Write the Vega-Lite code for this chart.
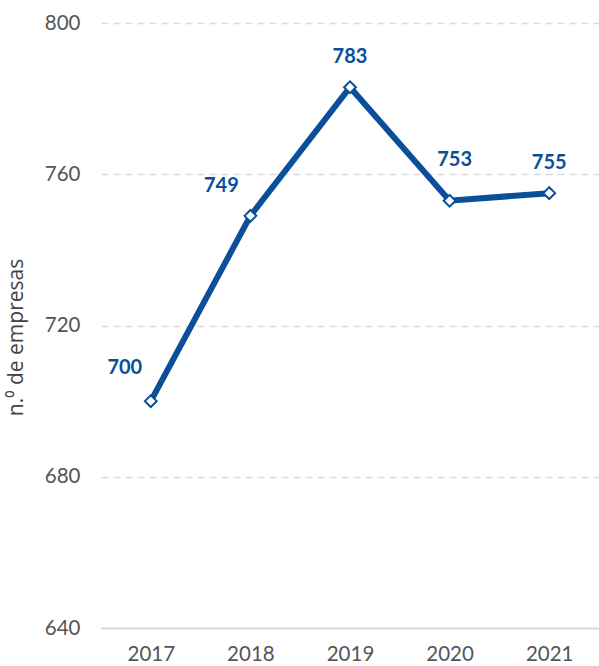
{
  "$schema": "https://vega.github.io/schema/vega-lite/v6.json",
  "autosize": {"type": "none"},
  "padding": {"left": 101, "top": 23, "right": 0, "bottom": 38},
  "width": 498,
  "height": 605,
  "background": "white",
  "config": {
    "view": {"stroke": null},
    "font": "Lato"
  },
  "data": {
    "values": [
      {"year": "2017", "value": 700},
      {"year": "2018", "value": 749},
      {"year": "2019", "value": 783},
      {"year": "2020", "value": 753},
      {"year": "2021", "value": 755}
    ]
  },
  "encoding": {
    "x": {
      "field": "year",
      "type": "ordinal",
      "scale": {"type": "point", "padding": 0.5},
      "axis": {
        "title": null,
        "labelAngle": 0,
        "labelFont": "Lato",
        "labelFontSize": 20.5,
        "labelColor": "#555555",
        "labelPadding": 16,
        "ticks": false,
        "domain": true,
        "domainColor": "#d9d9d9",
        "domainWidth": 2
      }
    },
    "y": {
      "field": "value",
      "type": "quantitative",
      "scale": {"domain": [640, 800], "nice": false, "zero": false},
      "axis": {
        "values": [640, 680, 720, 760, 800],
        "title": "n.⁰ de empresas",
        "titleFont": "Open Sans",
        "titleFontSize": 21,
        "titleFontWeight": "normal",
        "titleColor": "#444444",
        "titleX": -75,
        "titleY": 314,
        "labelFont": "Lato",
        "labelFontSize": 20.5,
        "labelColor": "#555555",
        "labelPadding": 21,
        "ticks": false,
        "domain": false,
        "grid": true,
        "gridColor": "#d9d9d9",
        "gridWidth": 1.5,
        "gridDash": [7, 5]
      }
    }
  },
  "layer": [
    {
      "mark": {"type": "line", "color": "#0b4f9a", "strokeWidth": 6}
    },
    {
      "mark": {"type": "point", "shape": "diamond", "filled": true, "fill": "white", "stroke": "#0b4f9a", "strokeWidth": 2, "size": 140, "opacity": 1}
    },
    {
      "transform": [{"filter": "datum.year == '2017'"}],
      "mark": {"type": "text", "color": "#0b4f9a", "fontWeight": "bold", "fontSize": 20, "font": "Lato", "dx": -26, "dy": -33},
      "encoding": {"text": {"field": "value", "type": "quantitative"}}
    },
    {
      "transform": [{"filter": "datum.year == '2018'"}],
      "mark": {"type": "text", "color": "#0b4f9a", "fontWeight": "bold", "fontSize": 20, "font": "Lato", "dx": -29, "dy": -30},
      "encoding": {"text": {"field": "value", "type": "quantitative"}}
    },
    {
      "transform": [{"filter": "datum.year == '2019' || datum.year == '2021'"}],
      "mark": {"type": "text", "color": "#0b4f9a", "fontWeight": "bold", "fontSize": 20, "font": "Lato", "dx": 0, "dy": -30},
      "encoding": {"text": {"field": "value", "type": "quantitative"}}
    },
    {
      "transform": [{"filter": "datum.year == '2020'"}],
      "mark": {"type": "text", "color": "#0b4f9a", "fontWeight": "bold", "fontSize": 20, "font": "Lato", "dx": 5, "dy": -41},
      "encoding": {"text": {"field": "value", "type": "quantitative"}}
    }
  ]
}
